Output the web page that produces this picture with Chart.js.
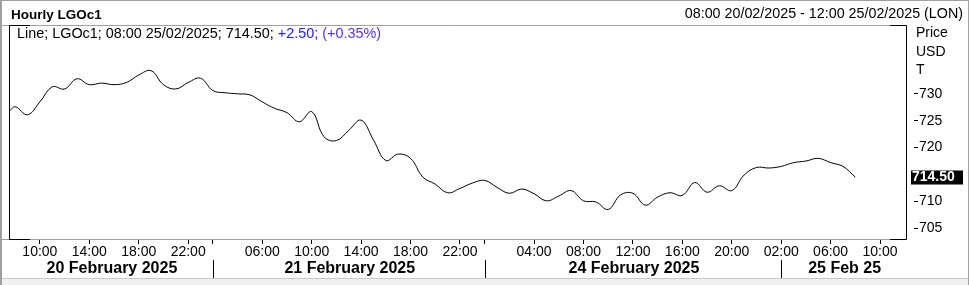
<!DOCTYPE html>
<html>
<head>
<meta charset="utf-8">
<script src="https://cdn.jsdelivr.net/npm/chart.js@4.4.1/dist/chart.umd.min.js"></script>
<style>
  html, body { margin: 0; padding: 0; background: #ffffff; }
  #wrap { width: 969px; height: 285px; position: relative; }
  canvas { display: block; }
</style>
</head>
<body>
<div id="wrap"><canvas id="c" width="969" height="285"></canvas></div>
<script>
// ---- data (hourly bar index, 0 = 08:00 20/02/2025) ----
const barIndex = [-0.5, 0, 1, 2, 3, 4, 5, 6, 7, 8, 9, 10, 11, 12, 13, 14, 15, 16, 17, 18, 19,
  20, 21, 22, 23, 24, 25, 26, 27, 28, 29, 30, 31, 32, 33, 34, 35, 36, 37, 38, 39,
  40, 41, 42, 43, 44, 45, 46, 47, 48, 49, 50, 51, 52, 53, 54, 55, 56, 57, 58, 59,
  60, 61, 62, 63, 64, 65, 66, 67, 68];
const prices = [726.7, 727.6, 726.1, 728.5, 731.3, 730.9, 732.8, 731.7, 732.0, 731.7, 732.1,
  733.5, 734.3, 731.7, 730.9, 732.1, 732.9, 730.6, 730.2, 730.0, 729.8,
  728.5, 727.3, 726.5, 724.8, 726.7, 722.0, 721.3, 723.2, 725.1, 721.4,
  717.6, 718.8, 718.0, 714.5, 713.2, 711.6, 712.4, 713.4, 713.9, 712.6,
  711.5, 712.3, 711.4, 710.1, 711.0, 712.0, 710.1, 709.9, 708.5, 711.2,
  711.5, 709.3, 710.8, 711.6, 711.1, 713.5, 711.7, 712.9, 712.0, 714.9,
  716.3, 716.2, 716.5, 717.2, 717.5, 718.0, 717.2, 716.5, 714.5];

const xTickIdx    = [2, 6, 10, 14, 16, 20, 24, 28, 32, 36, 38, 42, 46, 50, 54, 58, 62, 66, 70];
const xTickLabels = ['10:00', '14:00', '18:00', '22:00', '', '06:00', '10:00', '14:00', '18:00', '22:00',
  '', '04:00', '08:00', '12:00', '16:00', '20:00', '02:00', '06:00', '10:00'];
const dayStartIdx = [-0.5, 16, 38, 62];
const dayLabels   = ['20 February 2025', '21 February 2025', '24 February 2025', '25 Feb 25'];
const yTicks      = [705, 710, 715, 720, 725, 730];
const yTickShown  = [705, 710, 720, 725, 730];
const xMin = -0.5, xMax = 72.1, yMin = 703.0, yMax = 742.8;

const title = 'Hourly LGOc1';
const rangeText = '08:00 20/02/2025 - 12:00 25/02/2025 (LON)';
const legendParts = [
  ['Line; LGOc1; 08:00 25/02/2025; 714.50; ', '#000000'],
  ['+2.50;', '#2020ff'],
  [' (+0.35%)', '#5530f0']
];
const lastLabel = '714.50';
const unitLabels = ['Price', 'USD', 'T'];

const FONT = 'Arial, "Liberation Sans", sans-serif';
Chart.defaults.font.family = FONT;
Chart.defaults.color = '#000';

const decor = {
  id: 'decor',
  afterDraw(chart) {
    const ctx = chart.ctx;
    const a = chart.chartArea;
    const xs = chart.scales.x, ys = chart.scales.y;
    ctx.save();
    // outer frame
    ctx.fillStyle = '#f0f0f0';
    ctx.fillRect(0, 279, 969, 6);
    ctx.strokeStyle = '#c8c8c8';
    ctx.lineWidth = 1;
    ctx.beginPath(); ctx.moveTo(0, 278.5); ctx.lineTo(969, 278.5); ctx.stroke();
    ctx.fillStyle = '#a0a0a0';
    ctx.fillRect(0, 0, 2, 285);
    ctx.fillRect(0, 0, 969, 1);
    ctx.fillRect(968, 0, 1, 285);

    // plot frame: grey horizontals, black verticals and corners
    const L = 9.5, R = 906.5, T = 25.5, B = 239.5;
    ctx.strokeStyle = '#a0a0a0';
    ctx.beginPath();
    ctx.moveTo(0, T); ctx.lineTo(R, T);
    ctx.moveTo(0, B); ctx.lineTo(R, B);
    ctx.stroke();
    ctx.strokeStyle = '#000';
    ctx.beginPath();
    ctx.moveTo(L, T); ctx.lineTo(L, B);
    ctx.moveTo(R, T); ctx.lineTo(R, B);
    ctx.moveTo(L, T); ctx.lineTo(30, T);
    ctx.moveTo(L, B); ctx.lineTo(30, B);
    ctx.moveTo(890, T); ctx.lineTo(R, T);
    ctx.moveTo(890, B); ctx.lineTo(R, B);
    ctx.stroke();

    // header
    ctx.fillStyle = '#000';
    ctx.textBaseline = 'middle';
    ctx.font = 'bold 13.5px ' + FONT;
    ctx.textAlign = 'left';
    ctx.fillText(title, 11, 15);
    ctx.font = '14.3px ' + FONT;
    ctx.textAlign = 'right';
    ctx.fillText(rangeText, 963, 14.5);

    // legend line
    ctx.font = '14.4px ' + FONT;
    ctx.textAlign = 'left';
    let lx = 17;
    legendParts.forEach(([t, c]) => {
      ctx.fillStyle = c;
      ctx.fillText(t, lx, 34);
      lx += ctx.measureText(t).width;
    });

    // unit labels
    ctx.font = '14px ' + FONT;
    ctx.fillStyle = '#000';
    unitLabels.forEach((t, i) => ctx.fillText(t, 916, 33.5 + i * 18.5));

    // last value box
    const lastV = prices[prices.length - 1];
    const py = Math.round(ys.getPixelForValue(lastV));
    ctx.fillStyle = '#000';
    ctx.fillRect(911, py - 6.5, 52, 14);
    ctx.fillStyle = '#fff';
    ctx.font = 'bold 14px ' + FONT;
    ctx.fillText(lastLabel, 912, py + 0.5);

    // day labels and boundaries
    ctx.fillStyle = '#000';
    ctx.font = 'bold 16px ' + FONT;
    ctx.textAlign = 'center';
    const edges = dayStartIdx.map(v => xs.getPixelForValue(v));
    edges.push(a.right);
    ctx.strokeStyle = '#000';
    for (let i = 0; i < dayLabels.length; i++) {
      const cx = (edges[i] + edges[i + 1]) / 2;
      ctx.fillText(dayLabels[i], cx + 1, 269);
      if (i > 0) {
        const bx = Math.round(edges[i]) + 0.5;
        ctx.beginPath(); ctx.moveTo(bx, 260); ctx.lineTo(bx, 278); ctx.stroke();
      }
    }
    ctx.restore();
  }
};

new Chart(document.getElementById('c'), {
  type: 'line',
  data: {
    datasets: [{
      data: barIndex.map((x, i) => ({ x: x, y: prices[i] })),
      borderColor: '#000',
      borderWidth: 1,
      pointRadius: 0,
      tension: 0.4,
      fill: false
    }]
  },
  options: {
    responsive: false,
    animation: false,
    devicePixelRatio: 1,
    layout: { padding: { left: 9, top: 25, right: 0, bottom: 0 } },
    plugins: { legend: { display: false }, tooltip: { enabled: false } },
    scales: {
      x: {
        type: 'linear',
        min: xMin, max: xMax,
        afterBuildTicks: s => { s.ticks = xTickIdx.map(v => ({ value: v })); },
        afterFit: s => { s.height = 46; },
        grid: { drawOnChartArea: false, tickLength: 5, tickColor: '#000', tickWidth: 1 },
        border: { display: false },
        ticks: {
          autoSkip: false, maxRotation: 0, padding: 0,
          font: { size: 14 }, color: '#000',
          callback: (v, i) => xTickLabels[i]
        }
      },
      y: {
        type: 'linear',
        position: 'right',
        min: yMin, max: yMax,
        afterBuildTicks: s => { s.ticks = yTicks.map(v => ({ value: v })); },
        afterFit: s => { s.width = 63; },
        grid: {
          drawOnChartArea: false, tickLength: 12, tickColor: '#000', tickWidth: 1,
          tickBorderDash: [0, 8, 4, 100],
          color: (c) => (c.tick && yTickShown.includes(c.tick.value)) ? '#000' : 'rgba(0,0,0,0)'
        },
        border: { display: false },
        ticks: {
          padding: 1, font: { size: 14 }, color: '#000',
          callback: v => yTickShown.includes(v) ? String(v) : ''
        }
      }
    }
  },
  plugins: [decor]
});
</script>
</body>
</html>
